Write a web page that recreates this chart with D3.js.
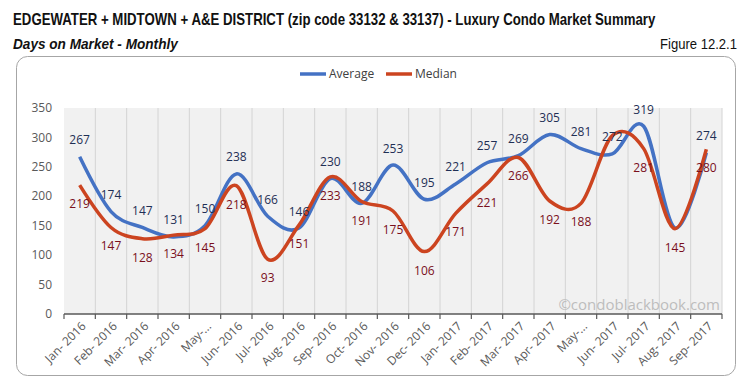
<!DOCTYPE html>
<html>
<head>
<meta charset="utf-8">
<script src="https://cdn.jsdelivr.net/npm/d3@7"></script>
<style>
  body { margin: 0; background: #fff; }
  svg { display: block; }
</style>
</head>
<body>
<svg id="chart" width="742" height="385"></svg>
<script>
var months = ["Jan- 2016", "Feb- 2016", "Mar- 2016", "Apr- 2016", "May-...", "Jun- 2016", "Jul- 2016",
              "Aug- 2016", "Sep- 2016", "Oct- 2016", "Nov- 2016", "Dec- 2016", "Jan- 2017", "Feb- 2017",
              "Mar- 2017", "Apr- 2017", "May-...", "Jun- 2017", "Jul- 2017", "Aug- 2017", "Sep- 2017"];
var average = [267, 174, 147, 131, 150, 238, 166, 146, 230, 188, 253, 195, 221, 257, 269, 305, 281, 272, 319, 146, 274];
var median  = [219, 147, 128, 134, 145, 218, 93, 151, 233, 191, 175, 106, 171, 221, 266, 192, 188, 303, 281, 145, 280];
// labels that are not shown in the original
var hiddenAvg = [19];
var hiddenMed = [17];
var yTicks = [0, 50, 100, 150, 200, 250, 300, 350];

var svg = d3.select("#chart");
var font = "'Open Sans', 'Noto Sans', sans-serif";
var narrow = "'Liberation Sans Narrow', 'Arial Narrow', 'Liberation Sans', sans-serif";

// squeeze a text horizontally so it fits a given width (no narrow font installed)
function fitText(sel, xPos, w) {
  var nat = sel.node().getComputedTextLength();
  var k = Math.min(1, w / nat);
  sel.attr("x", 0).attr("transform", "translate(" + xPos + ",0) scale(" + k + ",1)");
}

var title = svg.append("text").attr("y", 25)
   .text("EDGEWATER + MIDTOWN + A&E DISTRICT (zip code 33132 & 33137) - Luxury Condo Market Summary")
   .style("font-family", narrow).style("font-weight", "bold").style("font-size", "16px").style("fill", "#111");
fitText(title, 13, 643);
var sub = svg.append("text").attr("y", 49).text("Days on Market - Monthly")
   .style("font-family", narrow).style("font-weight", "bold").style("font-style", "italic").style("font-size", "14px").style("fill", "#111");
fitText(sub, 13, 165);
var fig = svg.append("text").attr("y", 49).text("Figure 12.2.1")
   .style("font-family", narrow).style("font-size", "14px").style("fill", "#111");
fitText(fig, 660, 77);

// frame
svg.append("rect").attr("x", 16.5).attr("y", 56.5).attr("width", 719).attr("height", 319).attr("rx", 11)
   .style("fill", "#fff").style("stroke", "#a6a6a6").style("stroke-width", 1);

var x = d3.scaleBand().domain(months.map(function(d, i) { return i; })).range([64, 722]);
var y = d3.scaleLinear().domain([0, 350]).range([314, 108]);
var cx = function(i) { return x(i) + x.bandwidth() / 2; };

// plot background and grid
svg.append("rect").attr("x", x.range()[0]).attr("y", y(350)).attr("width", x.range()[1] - x.range()[0])
   .attr("height", y(0) - y(350)).style("fill", "#f1f1f1");
svg.selectAll(".vgrid").data(d3.range(1, months.length + 1)).enter().append("line")
   .attr("x1", function(i) { return x.range()[0] + i * x.step(); })
   .attr("x2", function(i) { return x.range()[0] + i * x.step(); })
   .attr("y1", y(350)).attr("y2", y(0))
   .style("stroke", "#d4d4d4").style("stroke-width", 1);

// y axis labels
svg.selectAll(".ytick").data(yTicks).enter().append("text")
   .attr("x", 52).attr("y", function(d) { return y(d); }).attr("dy", "0.35em")
   .attr("text-anchor", "end").text(function(d) { return d; })
   .style("font-family", font).style("font-size", "12px").style("fill", "#595959");

// x axis
var xAxis = svg.append("g").attr("transform", "translate(0," + y(0) + ")");
xAxis.append("line").attr("x1", x.range()[0]).attr("x2", x.range()[1]).style("stroke", "#595959").style("stroke-width", 1.3);
xAxis.selectAll(".tk").data(d3.range(0, months.length + 1)).enter().append("line")
   .attr("x1", function(i) { return x.range()[0] + i * x.step(); })
   .attr("x2", function(i) { return x.range()[0] + i * x.step(); })
   .attr("y1", 0).attr("y2", 5).style("stroke", "#595959").style("stroke-width", 1.2);
xAxis.selectAll(".xl").data(months).enter().append("text")
   .attr("transform", function(d, i) { return "translate(" + (cx(i) + 4) + ",10) rotate(-45)"; })
   .attr("text-anchor", "end").attr("dy", "0.35em").text(function(d) { return d; })
   .style("font-family", font).style("font-size", "12px").style("fill", "#595959");

// watermark
svg.append("text").attr("x", 720).attr("y", 310).attr("text-anchor", "end").text("\u00a9condoblackbook.com")
   .style("font-family", font).style("font-size", "15px").style("fill", "#bdbdbd");

// lines
var line = d3.line().x(function(d, i) { return cx(i); }).y(function(d) { return y(d); })
   .curve(d3.curveCardinal.tension(0));
svg.append("path").datum(average).attr("d", line)
   .style("fill", "none").style("stroke", "#4472c4").style("stroke-width", 3.5);
svg.append("path").datum(median).attr("d", line)
   .style("fill", "none").style("stroke", "#cc4420").style("stroke-width", 3.5);

// data labels: average above, median below
average.forEach(function(d, i) {
  if (hiddenAvg.indexOf(i) >= 0) return;
  svg.append("text").attr("x", cx(i)).attr("y", y(d) - 12.5).attr("text-anchor", "middle").text(d)
     .style("font-family", font).style("font-size", "12px").style("fill", "#1f2f55");
});
median.forEach(function(d, i) {
  if (hiddenMed.indexOf(i) >= 0) return;
  svg.append("text").attr("x", cx(i)).attr("y", y(d) + 23).attr("text-anchor", "middle").text(d)
     .style("font-family", font).style("font-size", "12px").style("fill", "#7a0f1c");
});

// legend
var legend = [["Average", "#4472c4", 300], ["Median", "#cc4420", 386]];
legend.forEach(function(l) {
  svg.append("line").attr("x1", l[2]).attr("x2", l[2] + 26).attr("y1", 74).attr("y2", 74)
     .style("stroke", l[1]).style("stroke-width", 3.5);
  svg.append("text").attr("x", l[2] + 29).attr("y", 74).attr("dy", "0.35em").text(l[0])
     .style("font-family", font).style("font-size", "12px").style("fill", "#404040");
});
</script>
</body>
</html>
